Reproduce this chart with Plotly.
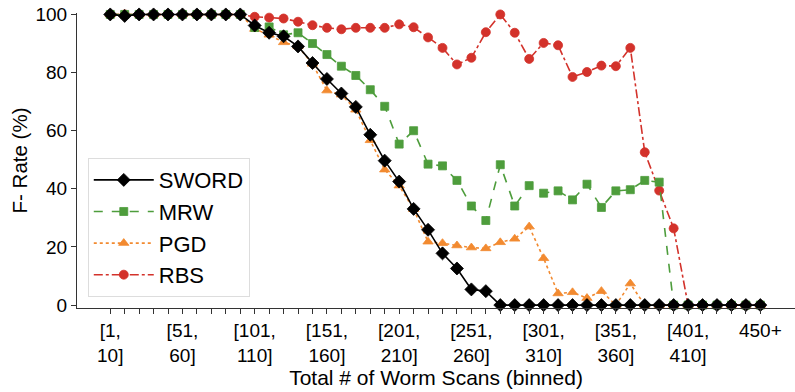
import plotly.graph_objects as go

# x categories: bins of 10 scans, plus 450+
bins = [f"[{10*i+1}, {10*i+10}]" for i in range(45)] + ["450+"]
tick_idx = list(range(46))
tick_text = []
for i in range(46):
    if i == 45:
        tick_text.append("450+")
    elif i % 5 == 0:
        tick_text.append(f"[{10*i+1},<br>{10*i+10}]")
    else:
        tick_text.append("")

sword = [100, 99.5, 100, 100, 100, 100, 100, 100, 100, 100,
         96.2, 93.7, 92.5, 89, 83.3, 77.8, 72.8, 68.2, 58.6, 49.7,
         42.5, 33.1, 25.9, 17.8, 12.6, 5.4, 4.8, 0, 0, 0,
         0, 0, 0, 0, 0, 0, 0, 0, 0, 0,
         0, 0, 0, 0, 0, 0]
mrw = [100, 100, 100, 100, 100, 100, 100, 100, 100, 100,
       95.5, 95.7, 93, 93.7, 90, 86.2, 82.2, 79, 74.1, 68.4,
       55.4, 60, 48.5, 47.9, 42.9, 34.1, 29.1, 48.3, 34.1, 41.1,
       38.5, 39.3, 36.2, 41.6, 33.6, 39.3, 39.7, 42.9, 42.3, 0,
       0, 0, 0, 0, 0, 0]
pgd = [100, 100, 100, 100, 100, 100, 100, 100, 100, 100,
       95, 93, 90.4, 89, 83, 73.8, 72.4, 67.2, 56.7, 46.6,
       41.1, 33, 21.8, 21.3, 20.5, 19.8, 19.5, 21.6, 22.8, 27,
       16.1, 4, 4.4, 2.4, 4.8, 0, 7.4, 0, 0, 0,
       0, 0, 0, 0, 0, 0]
rbs = [100, 100, 100, 100, 100, 100, 100, 100, 100, 100,
       99.2, 98.9, 98.6, 97.5, 96.3, 95.4, 94.9, 95.4, 95.4, 95.4,
       96.6, 95.6, 92.1, 88.5, 82.8, 85.1, 93.9, 100, 93.7, 84.7,
       90.2, 89.4, 78.5, 80.2, 82.4, 82.2, 88.5, 52.6, 39.4, 26.4,
       0, 0, 0, 0, 0, 0]

series = [
    ("RBS", rbs, "#d3322b", "dashdot", "circle", 9),
    ("PGD", pgd, "#f28a30", "dot", "triangle-up", 9),
    ("MRW", mrw, "#4e9d3c", "dash", "square", 8),
    ("SWORD", sword, "#000000", "solid", "diamond", 10),
]

fig = go.Figure()
for name, vals, color, dash, symbol, size in series:
    fig.add_trace(go.Scatter(
        x=tick_idx, y=vals, name=name, mode="lines+markers",
        line=dict(color=color, dash=dash, width=1.6),
        marker=dict(symbol=symbol, size=size, color=color,
                    line=dict(width=0.8, color=color)),
        cliponaxis=False,
        hovertext=bins,
    ))

font_family = "Liberation Sans, Arial, sans-serif"
fig.update_layout(
    width=795, height=392,
    margin=dict(l=77, r=0, t=13, b=84),
    plot_bgcolor="white", paper_bgcolor="white",
    font=dict(family=font_family, color="black"),
    legend=dict(
        x=0.015, y=0.037, xanchor="left", yanchor="bottom",
        traceorder="reversed", itemwidth=60,
        font=dict(size=22, family=font_family),
        bgcolor="white", bordercolor="#dddddd", borderwidth=1,
    ),
    xaxis=dict(
        range=[-2.3, 47.4],
        tickmode="array", tickvals=tick_idx, ticktext=tick_text,
        ticks="outside", ticklen=5, tickwidth=1, tickcolor="#333",
        showline=True, linecolor="#333", linewidth=1.2,
        showgrid=False, zeroline=False,
        tickfont=dict(size=19),
        title=dict(text="Total # of Worm Scans (binned)", font=dict(size=21), standoff=2),
    ),
    yaxis=dict(
        range=[-1, 100.5],
        tickvals=[0, 20, 40, 60, 80, 100],
        ticks="outside", ticklen=5, tickwidth=1, tickcolor="#333",
        showline=True, linecolor="#333", linewidth=1.2,
        showgrid=False, zeroline=False,
        tickfont=dict(size=19),
        title=dict(text="F- Rate (%)", font=dict(size=20.5), standoff=2),
    ),
)

fig.write_html("out.html")
